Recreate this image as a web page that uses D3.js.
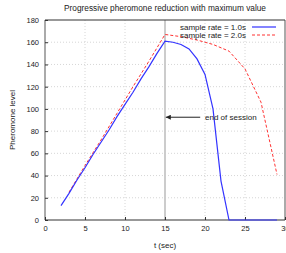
<!DOCTYPE html>
<html>
<head>
<meta charset="utf-8">
<script src="https://cdn.jsdelivr.net/npm/d3@7"></script>
<style>
  body { margin: 0; background: #fff; }
  text { font-family: "Liberation Sans", Arial, sans-serif; fill: #222; }
</style>
</head>
<body>
<svg id="chart" width="286" height="253"></svg>
<script>
// sample rate = 1.0s
const t1 = [2, 3, 4, 5, 6, 7, 8, 9, 10, 11, 12, 13, 14, 15, 16, 17, 18, 19, 20, 21, 22, 23, 24, 25, 26, 27, 28, 29];
const v1 = [13, 24, 36, 47, 59, 70, 81, 93, 104, 115, 127, 138, 150, 161, 160, 158, 154, 145, 131, 100, 35, 0, 0, 0, 0, 0, 0, 0];

// sample rate = 2.0s
const t2 = [3, 5, 7, 9, 11, 13, 15, 17, 19, 21, 23, 25, 27, 29];
const v2 = [25, 49, 72, 96, 120, 143, 167, 165, 162, 158, 152, 136, 106, 41];

const xTicks = [0, 5, 10, 15, 20, 25, 30];
const yTicks = [0, 20, 40, 60, 80, 100, 120, 140, 160, 180];
const seriesNames = ['sample rate = 1.0s', 'sample rate = 2.0s'];

const m = { left: 45, right: 285, top: 20, bottom: 220 };
const svg = d3.select('#chart');

const x = d3.scaleLinear().domain([0, 30]).range([m.left, m.right]);
const y = d3.scaleLinear().domain([0, 180]).range([m.bottom, m.top]);

// grid
svg.append('g').selectAll('line.gx')
   .data(xTicks.slice(1, -1)).enter()
   .append('line')
   .attr('x1', d => x(d)).attr('x2', d => x(d))
   .attr('y1', m.top).attr('y2', m.bottom)
   .style('stroke', '#ccc').style('stroke-width', 0.8).style('stroke-dasharray', '1,2');
svg.append('g').selectAll('line.gy')
   .data(yTicks.slice(1, -1)).enter()
   .append('line')
   .attr('x1', m.left).attr('x2', m.right)
   .attr('y1', d => y(d)).attr('y2', d => y(d))
   .style('stroke', '#ccc').style('stroke-width', 0.8).style('stroke-dasharray', '1,2');

// end of session marker
svg.append('line')
   .attr('x1', x(15)).attr('x2', x(15))
   .attr('y1', m.top).attr('y2', m.bottom)
   .style('stroke', '#ccc').style('stroke-width', 2);

// frame
svg.append('line').attr('x1', m.left).attr('x2', m.left).attr('y1', m.top).attr('y2', m.bottom)
   .style('stroke', '#aaa').style('stroke-width', 2);
svg.append('line').attr('x1', m.right).attr('x2', m.right).attr('y1', m.top).attr('y2', m.bottom)
   .style('stroke', '#aaa').style('stroke-width', 2);
svg.append('line').attr('x1', m.left).attr('x2', m.right).attr('y1', m.top).attr('y2', m.top)
   .style('stroke', '#333').style('stroke-width', 1.2);
svg.append('line').attr('x1', m.left).attr('x2', m.right).attr('y1', m.bottom).attr('y2', m.bottom)
   .style('stroke', '#333').style('stroke-width', 1.2);

// axes
const xAxis = d3.axisBottom(x).tickValues(xTicks).tickSize(-3).tickPadding(6);
const gx = svg.append('g').attr('transform', `translate(0,${m.bottom})`).call(xAxis);
const yAxis = d3.axisLeft(y).tickValues(yTicks).tickSize(-3).tickPadding(6);
const gy = svg.append('g').attr('transform', `translate(${m.left},0)`).call(yAxis);
[gx, gy].forEach(g => {
   g.select('.domain').remove();
   g.selectAll('.tick line').style('stroke', '#333');
   g.selectAll('.tick text').style('font-size', '7.5px').style('fill', '#222')
      .style('font-family', '"Liberation Sans", Arial, sans-serif');
});

// lines
const line = d3.line().x(d => x(d[0])).y(d => y(d[1]));
svg.append('path')
   .datum(t2.map((t, i) => [t, v2[i]]))
   .attr('d', line)
   .style('fill', 'none').style('stroke', '#ff3333').style('stroke-width', 1)
   .style('stroke-dasharray', '3,2');
svg.append('path')
   .datum(t1.map((t, i) => [t, v1[i]]))
   .attr('d', line)
   .style('fill', 'none').style('stroke', '#3333ff').style('stroke-width', 1.2);

// arrow
svg.append('defs').append('marker')
   .attr('id', 'arrow').attr('viewBox', '0 0 10 10')
   .attr('refX', 10).attr('refY', 5)
   .attr('markerWidth', 7).attr('markerHeight', 5)
   .attr('markerUnits', 'userSpaceOnUse')
   .attr('orient', 'auto')
   .append('path').attr('d', 'M0,0L10,5L0,10z').style('fill', '#222');
svg.append('line')
   .attr('x1', x(19.4)).attr('x2', x(15.1))
   .attr('y1', y(92.5)).attr('y2', y(92.5))
   .style('stroke', '#222').style('stroke-width', 1)
   .attr('marker-end', 'url(#arrow)');
svg.append('text')
   .attr('x', x(20)).attr('y', y(92.5)).attr('dy', '0.35em')
   .style('font-size', '8px')
   .text('end of session');

// legend
const legendColors = ['#3333ff', '#ff3333'];
seriesNames.forEach((name, i) => {
   const ly = 27 + i * 8;
   svg.append('text')
      .attr('x', 246).attr('y', ly).attr('dy', '0.35em')
      .attr('text-anchor', 'end')
      .style('font-size', '8px')
      .text(name);
   svg.append('line')
      .attr('x1', 252).attr('x2', 276).attr('y1', ly).attr('y2', ly)
      .style('stroke', legendColors[i]).style('stroke-width', i ? 1 : 1.2)
      .style('stroke-dasharray', i ? '3,2' : null);
});

// titles
svg.append('text')
   .attr('x', 165).attr('y', 11)
   .attr('text-anchor', 'middle')
   .style('font-size', '8.3px')
   .text('Progressive pheromone reduction with maximum value');
svg.append('text')
   .attr('x', 165).attr('y', 248)
   .attr('text-anchor', 'middle')
   .style('font-size', '8px')
   .text('t (sec)');
svg.append('text')
   .attr('transform', `translate(15,${(m.top + m.bottom) / 2}) rotate(-90)`)
   .attr('text-anchor', 'middle')
   .style('font-size', '8px')
   .text('Pheromone level');
</script>
</body>
</html>
